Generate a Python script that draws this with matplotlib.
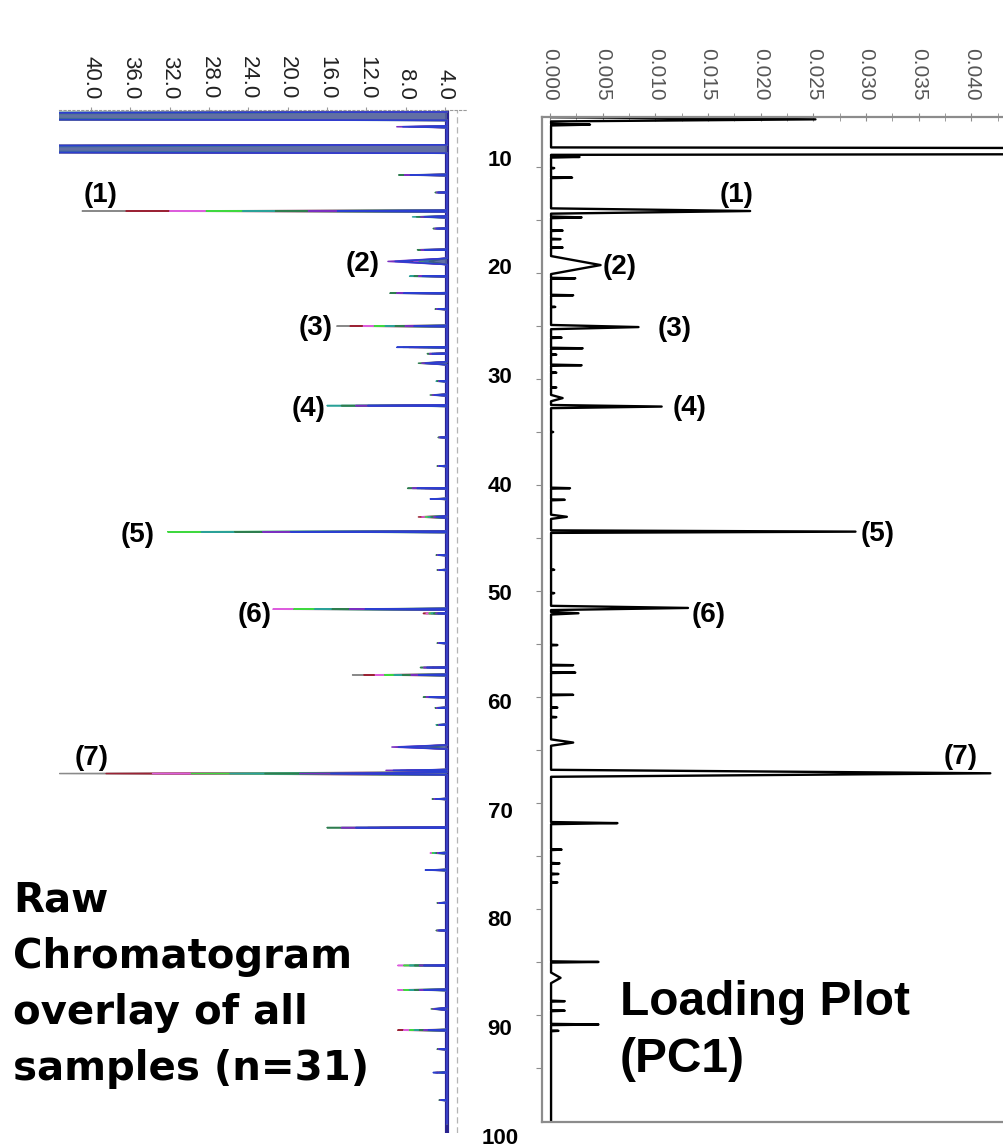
import matplotlib.pyplot as plt
import numpy as np

plt.rcParams['font.family'] = ['Liberation Sans', 'DejaVu Sans']

# raw chromatogram overlay: apex retention time (min), apex intensity, half width (min)
raw_rt = [5.2, 6.2, 8.3, 10.75, 12.4, 14.15, 14.7, 15.8, 17.8, 18.9, 20.3, 21.9, 23.4,
          25.0, 27.0, 27.6, 28.5, 30.2, 31.5, 32.5, 35.5, 38.2, 40.3, 41.3, 43.0, 44.4,
          46.6, 48.0, 51.7, 52.1, 54.9, 57.2, 57.9, 60.0, 61.0, 62.6, 64.7, 66.9, 67.2,
          69.6, 72.3, 74.7, 76.3, 79.4, 82.0, 85.3, 87.6, 89.4, 91.4, 93.2, 95.4, 98.0]
raw_height = [300, 8.9, 300, 8.7, 5.0, 40.9, 7.3, 5.2, 6.8, 9.8, 7.6, 9.6, 5.0,
              15.0, 8.9, 5.8, 6.7, 4.9, 5.5, 16.0, 4.7, 4.8, 7.8, 5.5, 6.7, 32.2,
              4.9, 4.8, 21.5, 6.2, 4.8, 6.5, 13.4, 6.2, 5.0, 4.9, 9.4, 10.0, 43.2,
              5.3, 16.0, 5.5, 6.0, 4.8, 4.9, 8.8, 8.8, 5.4, 8.8, 4.8, 5.2, 4.6]
raw_width = [0.4, 0.08, 0.4, 0.06, 0.05, 0.07, 0.08, 0.05, 0.05, 0.3, 0.05, 0.05, 0.05,
             0.06, 0.05, 0.05, 0.15, 0.05, 0.08, 0.07, 0.05, 0.05, 0.05, 0.05, 0.12, 0.06,
             0.05, 0.05, 0.07, 0.07, 0.05, 0.05, 0.06, 0.05, 0.05, 0.05, 0.2, 0.08, 0.12,
             0.05, 0.06, 0.06, 0.06, 0.05, 0.05, 0.06, 0.06, 0.12, 0.06, 0.05, 0.05, 0.05]
# run giving the largest response at each peak (index into run_colors)
raw_lead = [4, 6, 5, 5, 5, 0, 4, 5, 5, 6, 4, 5, 5,
            0, 7, 5, 5, 4, 5, 4, 5, 5, 5, 7, 1, 3,
            5, 5, 2, 1, 5, 5, 0, 5, 5, 4, 6, 6, 0,
            5, 5, 2, 7, 5, 5, 2, 2, 5, 1, 5, 7, 5]
raw_base = 3.8

# overlaid runs, in drawing order, and their responses relative to the strongest run
run_colors = ['#8a8a8a', '#9b2335', '#dd5ddd', '#3fd83f',
              '#2aa198', '#2e7d4f', '#7a2fc0', '#2b3fd0']
run_scale = [1.0, 0.88, 0.76, 0.66, 0.56, 0.47, 0.38, 0.30]

# PC1 loadings: retention time (min), loading, half width (min)
pc1_rt = [5.5, 6.0, 8.5, 9.05, 10.1, 11.0, 14.15, 14.75, 16.0, 16.8, 17.6, 19.25,
          20.5, 22.1, 23.2, 25.1, 26.1, 27.1, 27.7, 28.7, 29.4, 30.8, 31.8, 32.6,
          35.0, 40.3, 41.4, 43.0, 44.4, 48.0, 50.2, 51.6, 52.1, 55.1, 57.0, 57.7,
          59.8, 61.0, 61.9, 64.3, 67.2, 71.9, 74.4, 75.7, 76.7, 77.5, 85.0, 86.5,
          88.7, 89.6, 90.9, 91.5]
pc1_load = [0.0252, 0.0038, 0.30, 0.0028, 0.0004, 0.0021, 0.0190, 0.0030, 0.0012,
            0.0010, 0.0012, 0.0048, 0.0024, 0.0022, 0.0005, 0.0084, 0.0011, 0.0031,
            0.0006, 0.0030, 0.0006, 0.0006, 0.0012, 0.0106, 0.0003, 0.0019, 0.0014,
            0.0016, 0.0290, 0.0004, 0.0004, 0.0131, 0.0027, 0.0007, 0.0022, 0.0024,
            0.0022, 0.0007, 0.0006, 0.0022, 0.0418, 0.0064, 0.0011, 0.0009, 0.0008,
            0.0007, 0.0046, 0.0010, 0.0014, 0.0014, 0.0046, 0.0008]
pc1_width = [0.2, 0.08, 0.35, 0.06, 0.04, 0.05, 0.25, 0.08, 0.04, 0.04, 0.04, 0.85,
             0.05, 0.05, 0.04, 0.2, 0.04, 0.05, 0.04, 0.06, 0.04, 0.04, 0.3, 0.15,
             0.04, 0.05, 0.05, 0.2, 0.12, 0.04, 0.04, 0.2, 0.12, 0.04, 0.04, 0.04,
             0.04, 0.04, 0.04, 0.3, 0.33, 0.1, 0.05, 0.05, 0.05, 0.05, 0.06, 0.5,
             0.05, 0.05, 0.06, 0.04]
pc1_base = 0.0001

peak_names = ['(1)', '(2)', '(3)', '(4)', '(5)', '(6)', '(7)']
raw_peak_rt = [14.15, 18.9, 25.0, 32.5, 44.4, 51.7, 67.2]
pc1_peak_rt = [14.15, 19.25, 25.1, 32.6, 44.4, 51.6, 67.2]

raw_ticks = [40, 36, 32, 28, 24, 20, 16, 12, 8, 4]
pc1_ticks = [0.0, 0.005, 0.010, 0.015, 0.020, 0.025, 0.030, 0.035, 0.040]
rt_ticks = [10, 20, 30, 40, 50, 60, 70, 80, 90, 100]


def trace(rt, height, width, base, t_end=100.2):
    t, y = [0.0], [base]
    for r, h, w in sorted(zip(rt, height, width)):
        t += [r - w, r, r + w]
        y += [base, h, base]
    t.append(t_end)
    y.append(base)
    return np.array(y), np.array(t)


W, H = 1004, 1147
fig = plt.figure(figsize=(W / 100, H / 100), dpi=100)


def box(x0, y0, x1, y1):
    return [x0 / W, 1 - y1 / H, (x1 - x0) / W, (y1 - y0) / H]


ax_raw = fig.add_axes(box(59, 110, 467, 1133))
ax_pc = fig.add_axes(box(542, 117, 1004, 1122))
ax_rt = fig.add_axes(box(470, 117, 530, 1147))

# --- raw overlay ---
ax_raw.axvline(raw_base, color='#2a238f', lw=3, zorder=1)
n_runs = len(run_colors)
for c, color in enumerate(run_colors):
    heights = [raw_base + (h - raw_base) * run_scale[(c - lead) % n_runs]
               for h, lead in zip(raw_height, raw_lead)]
    x, t = trace(raw_rt, heights, raw_width, raw_base)
    ax_raw.fill_betweenx(t, raw_base, x, color=color, alpha=0.25, lw=0, zorder=2)
    ax_raw.plot(x, t, color=color, lw=1.1, zorder=2)
ax_raw.axvline(2.8, color='#b5b5b5', lw=0.9, ls=(0, (5, 3)), zorder=0)

ax_raw.set_xlim(43.26, 1.76)
ax_raw.set_ylim(101.1, 4.62)
for side in ['left', 'right', 'bottom']:
    ax_raw.spines[side].set_visible(False)
ax_raw.spines['top'].set_color('#9a9a9a')
ax_raw.spines['top'].set_linestyle((0, (2, 2)))
ax_raw.xaxis.tick_top()
ax_raw.set_xticks(raw_ticks)
ax_raw.set_xticklabels(['%.1f' % v for v in raw_ticks], rotation=-90)
ax_raw.tick_params(axis='x', direction='inout', length=5, color='#9a9a9a',
                   pad=5, labelsize=16, labelcolor='#222222')
ax_raw.set_yticks([])

raw_offsets = [(1, 16.5, 'left'), (-8, -3, 'right'), (-4, -2, 'right'), (-2, -3.5, 'right'),
               (-13, -3, 'right'), (-1, -6, 'right'), (15, 16, 'left')]
for name, rt, (dx, dy, ha) in zip(peak_names, raw_peak_rt, raw_offsets):
    h = raw_height[raw_rt.index(rt)]
    ax_raw.annotate(name, xy=(min(h, 43.2), rt), xytext=(dx * 0.72, dy * 0.72),
                    textcoords='offset points', ha=ha, va='center',
                    fontsize=20, fontweight='bold', annotation_clip=False)

# --- PC1 loading plot ---
x, t = trace(pc1_rt, pc1_load, pc1_width, pc1_base)
ax_pc.plot(x, t, color='black', lw=1.7)
ax_pc.set_xlim(-0.00076, 0.0431)
ax_pc.set_ylim(100.1, 5.28)
ax_pc.spines['right'].set_visible(False)
for side in ['left', 'top', 'bottom']:
    ax_pc.spines[side].set_color('#8c8c8c')
    ax_pc.spines[side].set_linewidth(1.6)
ax_pc.xaxis.tick_top()
ax_pc.set_xticks(pc1_ticks)
ax_pc.set_xticks(np.arange(0.0025, 0.043, 0.005), minor=True)
ax_pc.set_xticklabels(['%.3f' % v for v in pc1_ticks], rotation=-90)
ax_pc.tick_params(axis='x', which='both', direction='inout', length=6, color='#8c8c8c',
                  pad=9, labelsize=15, labelcolor='#555555')
ax_pc.set_yticks(np.arange(10, 100, 5))
ax_pc.tick_params(axis='y', direction='out', length=4, color='#8c8c8c', labelleft=False)

pc1_offsets = [(3, 16.5, 'right'), (2, -2, 'left'), (19, -2, 'left'), (11, -1.5, 'left'),
               (5, -2.5, 'left'), (4, -7, 'left'), (-13, 16, 'right')]
for name, rt, (dx, dy, ha) in zip(peak_names, pc1_peak_rt, pc1_offsets):
    v = pc1_load[pc1_rt.index(rt)]
    ax_pc.annotate(name, xy=(v, rt), xytext=(dx * 0.72, dy * 0.72),
                   textcoords='offset points', ha=ha, va='center',
                   fontsize=20, fontweight='bold', annotation_clip=False)

# --- shared retention time labels ---
ax_rt.set_ylim(100.8, 6.04)
ax_rt.axis('off')
for v in rt_ticks:
    ax_rt.text(0.5, v, str(v), transform=ax_rt.get_yaxis_transform(),
               ha='center', va='center', fontsize=16, fontweight='bold')

fig.text(13 / W, 1 - 881 / H, 'Raw\nChromatogram\noverlay of all\nsamples (n=31)',
         family='DejaVu Sans', fontweight='bold', fontsize=29, va='top', ha='left',
         linespacing=1.52)
fig.text(620 / W, 1 - 980 / H, 'Loading Plot\n(PC1)', fontweight='bold', fontsize=34.5,
         va='top', ha='left', linespacing=1.33)

fig.savefig('out.png', dpi=100)
